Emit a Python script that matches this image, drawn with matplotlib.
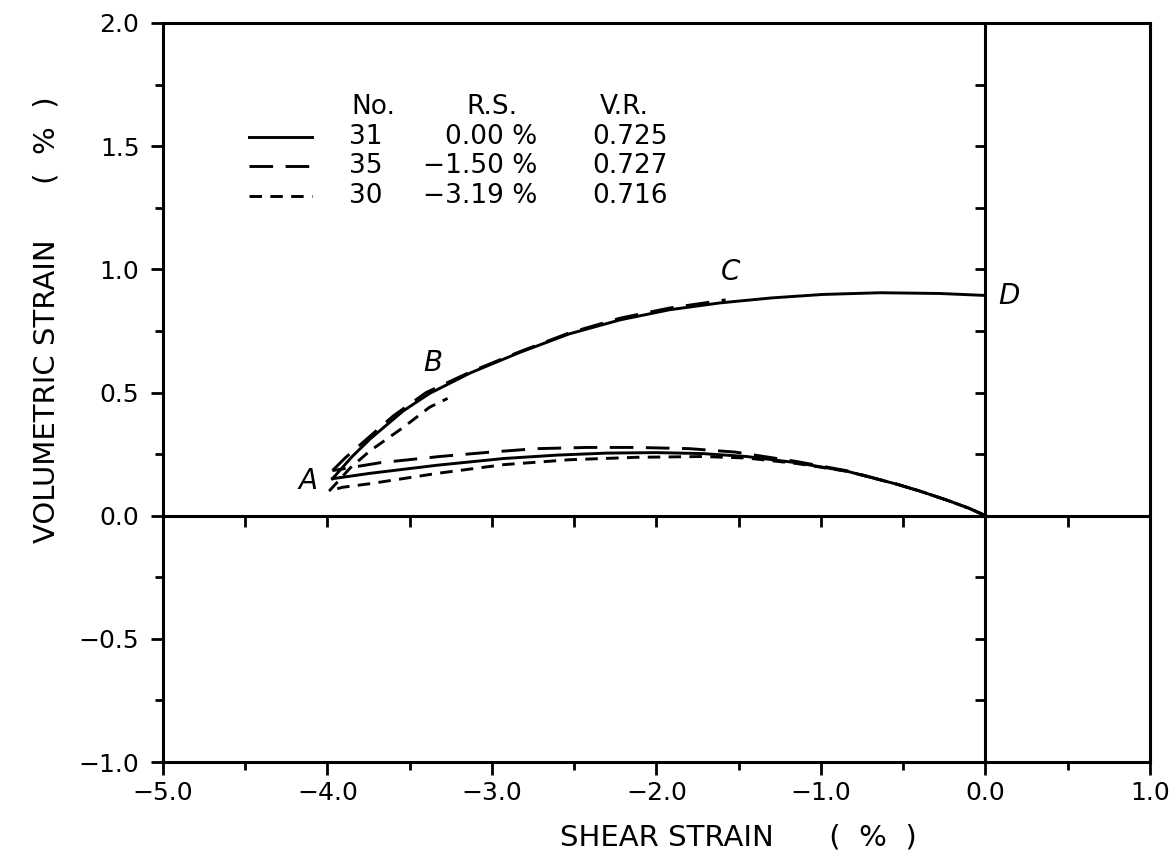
# -*- coding:utf-8 -*-
# volumetric strain vs shear strain, three tests

import numpy as np
import matplotlib
matplotlib.use("Agg")
import matplotlib.pyplot as plt
from matplotlib.ticker import MultipleLocator, FuncFormatter

plt.rcParams['font.family'] = ['DejaVu Sans']
plt.rcParams['lines.scale_dashes'] = False

# test 31 (solid)
x31_lower = [0.0, -0.10, -0.23, -0.40, -0.54, -0.84, -1.15, -1.45, -1.72, -2.00, -2.30, -2.60, -2.93, -3.33, -3.74, -3.97]
y31_lower = [0.0, 0.030, 0.062, 0.100, 0.128, 0.180, 0.215, 0.240, 0.252, 0.256, 0.254, 0.246, 0.232, 0.205, 0.172, 0.150]
x31_upper = [-3.97, -3.85, -3.74, -3.54, -3.38, -3.13, -2.83, -2.53, -2.22, -1.92, -1.61, -1.30, -0.99, -0.64, -0.28, 0.0]
y31_upper = [0.150, 0.240, 0.312, 0.425, 0.496, 0.580, 0.663, 0.738, 0.795, 0.836, 0.864, 0.884, 0.898, 0.905, 0.902, 0.894]

# test 35 (long dash)
x35_lower = [0.0, -0.10, -0.23, -0.40, -0.54, -0.84, -1.15, -1.52, -1.80, -2.12, -2.42, -2.73, -3.01, -3.32, -3.68, -3.97]
y35_lower = [0.0, 0.030, 0.062, 0.100, 0.128, 0.182, 0.220, 0.258, 0.272, 0.277, 0.277, 0.272, 0.258, 0.240, 0.215, 0.183]
x35_upper = [-3.97, -3.89, -3.78, -3.60, -3.40, -3.13, -2.83, -2.53, -2.22, -1.92, -1.58]
y35_upper = [0.183, 0.236, 0.300, 0.405, 0.500, 0.584, 0.666, 0.742, 0.802, 0.843, 0.876]

# test 30 (short dash)
x30_lower = [0.0, -0.10, -0.23, -0.40, -0.54, -0.84, -1.15, -1.45, -1.72, -2.12, -2.53, -2.93, -3.33, -3.74, -3.91, -3.99]
y30_lower = [0.0, 0.030, 0.062, 0.100, 0.128, 0.180, 0.212, 0.234, 0.240, 0.237, 0.227, 0.207, 0.172, 0.130, 0.115, 0.100]
x30_upper = [-3.99, -3.86, -3.74, -3.54, -3.38, -3.27]
y30_upper = [0.100, 0.195, 0.264, 0.358, 0.440, 0.476]

# legend table
test_no = ["31", "35", "30"]
test_rs = ["0.00 %", "\u22121.50 %", "\u22123.19 %"]
test_vr = ["0.725", "0.727", "0.716"]

# point labels
point_names = ["A", "B", "C", "D"]
point_x = [-4.12, -3.36, -1.55, 0.14]
point_y = [0.14, 0.62, 0.99, 0.89]

fig = plt.figure(figsize=(11.75, 8.6), dpi=100)
ax = fig.add_axes([163/1175, 1 - 762/860, (1150 - 163)/1175, (762 - 23)/860])

lw = 2.1
styles = [dict(linestyle="-"),
          dict(linestyle=(0, (17, 9))),
          dict(linestyle=(0, (9, 6)))]
curves = [(x31_lower, y31_lower, x31_upper, y31_upper),
          (x35_lower, y35_lower, x35_upper, y35_upper),
          (x30_lower, y30_lower, x30_upper, y30_upper)]
for (xl, yl, xu, yu), st in zip(curves, styles):
    ax.plot(xl, yl, color="k", lw=lw, solid_joinstyle="round", **st)
    ax.plot(xu, yu, color="k", lw=lw, solid_joinstyle="round", **st)

ax.set_xlim(-5, 1)
ax.set_ylim(-1, 2)

for s in ax.spines.values():
    s.set_linewidth(2.2)

fmt = FuncFormatter(lambda v, p: ("%.1f" % v).replace("-", "\u2212"))
ax.xaxis.set_major_locator(MultipleLocator(1.0))
ax.xaxis.set_minor_locator(MultipleLocator(0.5))
ax.yaxis.set_major_locator(MultipleLocator(0.5))
ax.yaxis.set_minor_locator(MultipleLocator(0.25))
ax.xaxis.set_major_formatter(fmt)
ax.yaxis.set_major_formatter(fmt)
ax.tick_params(which="both", direction="out", width=2, top=False, right=False, labelsize=18)
ax.tick_params(which="major", length=9)
ax.tick_params(which="minor", length=6)
ax.tick_params(axis="y", pad=8)
ax.tick_params(axis="x", pad=5)

# zero lines with their own ticks
ax.axhline(0, color="k", lw=2.2)
ax.axvline(0, color="k", lw=2.2)
hx = np.arange(-4.5, 1.0, 0.5)
ax.plot(hx, np.zeros_like(hx), ls="none", marker=3, ms=8, mew=2, color="k")
vy = np.arange(-0.75, 2.0, 0.25)
ax.plot(np.zeros_like(vy), vy, ls="none", marker=0, ms=7, mew=2, color="k")

# legend drawn as a little table
ax.text(-3.857, 1.658, "No.", fontsize=19, va="center", ha="left")
ax.text(-3.0, 1.658, "R.S.", fontsize=19, va="center", ha="center")
ax.text(-2.198, 1.658, "V.R.", fontsize=19, va="center", ha="center")
rows_y = [1.537, 1.419, 1.297]
for i in range(3):
    ax.plot([-4.477, -4.094], [rows_y[i], rows_y[i]], color="k", lw=lw, **styles[i])
    ax.text(-3.87, rows_y[i], test_no[i], fontsize=19, va="center", ha="left")
    ax.text(-2.726, rows_y[i], test_rs[i], fontsize=19, va="center", ha="right")
    ax.text(-2.39, rows_y[i], test_vr[i], fontsize=19, va="center", ha="left")

for name, px, py in zip(point_names, point_x, point_y):
    ax.text(px, py, name, fontsize=20, style="italic", ha="center", va="center")

fig.text(0.040, 0.628, "VOLUMETRIC STRAIN      (  %  )", rotation=90,
         fontsize=21, ha="center", va="center")
fig.text(0.628, 0.026, "SHEAR STRAIN      (  %  )", fontsize=21,
         ha="center", va="center")

fig.savefig("out.png", dpi=100)
